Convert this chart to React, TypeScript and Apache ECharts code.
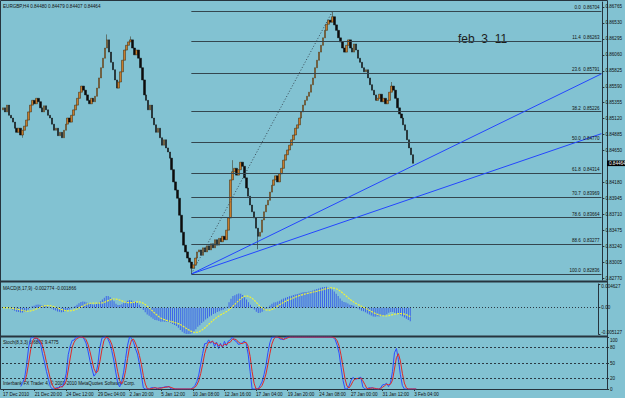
import React, { useEffect, useRef } from "react";
import * as echarts from "echarts";

const symbolTitle = "EURGBP,H4 0.84480 0.84479 0.84407 0.84464";
const macdTitle = "MACD(8,17,9) -0.002774 -0.001866";
const stochTitle = "Stoch(8,3,3) 6.6802 9.4775";
const copyright = "Interbank FX Trader 4, \u00a9 2001-2010 MetaQuotes Software Corp.";
const noteText = "feb  3  11";

// H4 closes (17 Dec 2010 .. 3 Feb 2011)
const closes = [
  0.8528, 0.8522, 0.8532, 0.8517, 0.8513, 0.8507, 0.8498,
  0.8492, 0.8498, 0.8488, 0.8495, 0.8501, 0.8510, 0.8522,
  0.8532, 0.8539, 0.8534, 0.8542, 0.8537, 0.8528, 0.8522, 0.8531,
  0.8525, 0.8517, 0.8513, 0.8504, 0.8495, 0.8498, 0.8487, 0.8492,
  0.8484, 0.8495, 0.8504, 0.8513, 0.8507, 0.8517, 0.8525, 0.8532,
  0.8542, 0.8551, 0.8560, 0.8554, 0.8547, 0.8539, 0.8534, 0.8542,
  0.8537, 0.8545, 0.8557, 0.8572, 0.8587, 0.8601,
  0.8616, 0.8628, 0.8610, 0.8595, 0.8584, 0.8569,
  0.8557, 0.8566, 0.8581, 0.8598, 0.8613, 0.8620,
  0.8625, 0.8628, 0.8616, 0.8606, 0.8613, 0.8601,
  0.8587, 0.8569, 0.8547, 0.8539, 0.8525, 0.8532,
  0.8513, 0.8503, 0.8492, 0.8498, 0.8484, 0.8473,
  0.8481, 0.8469, 0.8463, 0.8454, 0.8437, 0.8419,
  0.8407, 0.8395, 0.8370, 0.8345, 0.8326, 0.8316,
  0.8307, 0.8301, 0.8292, 0.8297, 0.8307, 0.8316,
  0.8319, 0.8311, 0.8322, 0.8316, 0.8325, 0.8319,
  0.8328, 0.8322, 0.8334, 0.8326, 0.8336, 0.8331,
  0.8339, 0.8334, 0.8348, 0.8366, 0.8422, 0.8434,
  0.8439, 0.8429, 0.8437, 0.8448, 0.8442, 0.8425,
  0.8410, 0.8398, 0.8385, 0.8375, 0.8366, 0.8351,
  0.8339, 0.8345, 0.8363, 0.8375, 0.8385, 0.8392,
  0.8404, 0.8414, 0.8422, 0.8428, 0.8419, 0.8431,
  0.8439, 0.8451, 0.8459, 0.8466, 0.8473, 0.8481,
  0.8488, 0.8498, 0.8503, 0.8513, 0.8522, 0.8532,
  0.8539, 0.8545, 0.8551, 0.8562, 0.8572, 0.8587,
  0.8598, 0.8610, 0.8620, 0.8631, 0.8642, 0.8651,
  0.8657, 0.8654, 0.8662, 0.8650, 0.8642, 0.8631,
  0.8625, 0.8616, 0.8610, 0.8620, 0.8628, 0.8616,
  0.8610, 0.8622, 0.8613, 0.8601, 0.8595, 0.8587,
  0.8581, 0.8584, 0.8572, 0.8562, 0.8554, 0.8547,
  0.8539, 0.8542, 0.8548, 0.8537, 0.8542, 0.8534,
  0.8539, 0.8551, 0.8560, 0.8554, 0.8542, 0.8528,
  0.8519, 0.8513, 0.8503, 0.8495, 0.8481, 0.8469, 0.8459, 0.84464,
];
const firstOpen = 0.8525;
// wick extremes: [bar index, price]
const wickHighs = [[53, 0.8636], [65, 0.8633], [117, 0.8451], [168, 0.86704], [198, 0.8566]];
const wickLows = [[10, 0.8484], [96, 0.82836], [130, 0.8320]];

// indicator settings shown in the pane titles
const macdFast = 8, macdSlow = 17, macdSignal = 9;
const stochK = 8, stochSlowing = 3, stochD = 3;

const totalSlots = 306;
const labelEvery = 16;
const timeLabels = [
  "17 Dec 2010", "21 Dec 20:00", "24 Dec 12:00", "29 Dec 04:00", "2 Jan 20:00",
  "5 Jan 12:00", "10 Jan 08:00", "12 Jan 16:00", "17 Jan 04:00", "19 Jan 20:00",
  "24 Jan 08:00", "27 Jan 00:00", "31 Jan 12:00", "3 Feb 04:00",
];

const fibRatios = ["0.0", "11.4", "23.6", "38.2", "50.0", "61.8", "70.7", "78.6", "88.6", "100.0"];
const fibPrices = [0.86704, 0.86263, 0.85791, 0.85226, 0.8477, 0.84314, 0.83969, 0.83664, 0.83277, 0.82836];
const fibStartBar = 96;
const fibEndBar = 168;
const trendEndPrices = [0.8578, 0.849];

const priceTicks = [
  0.86765, 0.8653, 0.86295, 0.8606, 0.85825, 0.8559, 0.85355, 0.8512, 0.84885,
  0.8465, 0.8418, 0.83945, 0.8371, 0.83475, 0.8324, 0.83005, 0.8277,
];
const macdTicks = [0.004627, 0, -0.005127];
const stochTicks = [0, 20, 50, 80, 100];
const stochLevels = [80, 50, 20];

const FONT = "Liberation Sans, Arial, sans-serif";
const BG = "#82c2d2";
const FRAME = "#26343e";

export default function App() {
  const ref = useRef<HTMLDivElement>(null);
  useEffect(() => {
    const chart = echarts.init(ref.current!, null, { renderer: "svg" });
    const n = closes.length;
    const opens = closes.map((c, i) => (i === 0 ? firstOpen : closes[i - 1]));
    const highs = closes.map((c, i) => Math.max(c, opens[i]));
    const lows = closes.map((c, i) => Math.min(c, opens[i]));
    wickHighs.forEach(([i, v]) => (highs[i] = Math.max(highs[i], v)));
    wickLows.forEach(([i, v]) => (lows[i] = Math.min(lows[i], v)));
    const ohlc = closes.map((c, i) => [opens[i], c, lows[i], highs[i]]);

    // MACD: EMA(fast) - EMA(slow), signal = SMA of MACD
    const ema = (arr: number[], p: number) => {
      const k = 2 / (p + 1);
      let e = arr[0];
      return arr.map((v, i) => (i === 0 ? e : (e = v * k + e * (1 - k))));
    };
    const ef = ema(closes, macdFast);
    const es = ema(closes, macdSlow);
    const macd = closes.map((_, i) => ef[i] - es[i]);
    const signal = macd.map((_, i) => {
      const w = macd.slice(Math.max(0, i - macdSignal + 1), i + 1);
      return w.reduce((a, b) => a + b, 0) / w.length;
    });

    // Stochastic oscillator
    const num: number[] = [], den: number[] = [];
    for (let i = 0; i < n; i++) {
      const s = Math.max(0, i - stochK + 1);
      const hh = Math.max(...highs.slice(s, i + 1));
      const ll = Math.min(...lows.slice(s, i + 1));
      num.push(closes[i] - ll);
      den.push(hh - ll);
    }
    const kLine: (number | null)[] = [];
    for (let i = 0; i < n; i++) {
      if (i < stochK + stochSlowing - 2) { kLine.push(null); continue; }
      let a = 0, b = 0;
      for (let j = i - stochSlowing + 1; j <= i; j++) { a += num[j]; b += den[j]; }
      kLine.push(b === 0 ? 100 : (100 * a) / b);
    }
    const dLine = kLine.map((_, i) => {
      if (i < stochK + stochSlowing + stochD - 3) return null;
      let s = 0;
      for (let j = i - stochD + 1; j <= i; j++) s += kLine[j] as number;
      return s / stochD;
    });

    const cats = Array.from({ length: totalSlots }, (_, i) => String(i));
    const lastSlot = totalSlots - 1;

    const fibLines = fibPrices.map((p, i) => [
      {
        coord: [fibStartBar, p],
        label: {
          show: true, position: "insideEndTop", formatter: `${fibRatios[i]}  ${p.toFixed(5)}`,
          fontSize: 4.5, fontFamily: FONT, color: "#111", distance: [2, 1],
        },
        lineStyle: { color: "#34464f", width: 1, type: "solid" },
      },
      { coord: [lastSlot, p] },
    ]);
    const trendLines = trendEndPrices.map((p) => [
      { coord: [fibStartBar, fibPrices[fibPrices.length - 1]], label: { show: false }, lineStyle: { color: "#2446ff", width: 1, type: "solid" } },
      { coord: [lastSlot, p] },
    ]);
    const fibDiag = [
      { coord: [fibStartBar, fibPrices[fibPrices.length - 1]], label: { show: false }, lineStyle: { color: "#3a4a55", width: 1, type: [1, 2] } },
      { coord: [fibEndBar, fibPrices[0]] },
    ];

    const axisLabelBase = { fontSize: 4.6, fontFamily: FONT, color: "#111", margin: 3 };
    const hiddenX = (g: number) => ({
      type: "category", gridIndex: g, data: cats, boundaryGap: true,
      axisLine: { show: false }, axisTick: { show: false }, axisLabel: { show: false }, splitLine: { show: false },
    });

    const option: any = {
      animation: false,
      backgroundColor: BG,
      grid: [
        { left: 2, right: 18, top: 2, height: 278 },
        { left: 2, right: 18, top: 284, height: 50 },
        { left: 2, right: 18, top: 337, height: 52 },
      ],
      xAxis: [
        hiddenX(0),
        hiddenX(1),
        {
          type: "category", gridIndex: 2, data: cats, boundaryGap: true,
          axisLine: { show: false },
          axisTick: { show: true, alignWithLabel: true, length: 2, lineStyle: { color: FRAME },
            interval: (idx: number) => idx % labelEvery === 0 && idx / labelEvery < timeLabels.length },
          axisLabel: {
            ...axisLabelBase, align: "left", margin: 3,
            interval: (idx: number) => idx % labelEvery === 0 && idx / labelEvery < timeLabels.length,
            formatter: (_v: string, idx: number) => timeLabels[idx / labelEvery] ?? "",
          },
          splitLine: { show: false },
        },
      ],
      yAxis: [
        {
          type: "value", gridIndex: 0, position: "right", min: 0.82747, max: 0.86837, scale: true,
          axisLine: { show: true, lineStyle: { color: FRAME } },
          axisTick: { show: true, length: 2, customValues: priceTicks, lineStyle: { color: FRAME } },
          axisLabel: { ...axisLabelBase, customValues: priceTicks, formatter: (v: number) => v.toFixed(5) },
          splitLine: { show: false },
        },
        {
          type: "value", gridIndex: 1, position: "right", min: -0.005127, max: 0.004627,
          axisLine: { show: true, lineStyle: { color: FRAME } },
          axisTick: { show: true, length: 2, customValues: macdTicks, lineStyle: { color: FRAME } },
          axisLabel: {
            ...axisLabelBase, customValues: macdTicks,
            formatter: (v: number) => (v === 0 ? "0.00" : v > 0 ? "{a|" + v.toFixed(6) + "}" : "{b|" + v.toFixed(6) + "}"),
            rich: {
              a: { fontSize: 4.6, fontFamily: FONT, color: "#111", padding: [5, 0, 0, 0] },
              b: { fontSize: 4.6, fontFamily: FONT, color: "#111", padding: [0, 0, 4, 0] },
            },
          },
          splitLine: { show: false },
        },
        {
          type: "value", gridIndex: 2, position: "right", min: 0, max: 100,
          axisLine: { show: true, lineStyle: { color: FRAME } },
          axisTick: { show: true, length: 2, customValues: stochTicks, lineStyle: { color: FRAME } },
          axisLabel: {
            ...axisLabelBase, customValues: stochTicks,
            formatter: (v: number) => (v === 100 ? "{t|100}" : String(v)),
            rich: { t: { fontSize: 4.6, fontFamily: FONT, color: "#111", padding: [7, 0, 0, 0] } },
          },
          splitLine: { show: false },
        },
      ],
      series: [
        {
          type: "candlestick", xAxisIndex: 0, yAxisIndex: 0, data: ohlc, barWidth: 2,
          itemStyle: { color: "#c97c2a", color0: "#0c0c0c", borderColor: "#3a240a", borderColor0: "#0c0c0c", borderWidth: 0.5 },
          markLine: { silent: true, symbol: ["none", "none"], animation: false, data: [...fibLines, ...trendLines, fibDiag] },
        },
        {
          type: "bar", xAxisIndex: 1, yAxisIndex: 1, data: macd, barWidth: 1, itemStyle: { color: "#3d63e8" },
          markLine: { silent: true, symbol: ["none", "none"], label: { show: false },
            lineStyle: { color: "#2b3a44", type: [1, 2], width: 1 }, data: [{ yAxis: 0 }] },
        },
        {
          type: "line", xAxisIndex: 1, yAxisIndex: 1, data: signal, showSymbol: false, symbol: "none",
          lineStyle: { color: "#eef23a", width: 1.2, type: [2, 1] },
        },
        {
          type: "line", xAxisIndex: 2, yAxisIndex: 2, data: kLine, showSymbol: false, symbol: "none",
          lineStyle: { color: "#2f4cff", width: 1 },
          markLine: { silent: true, symbol: ["none", "none"], label: { show: false },
            lineStyle: { color: "#2b3a44", type: [2, 2], width: 1 }, data: stochLevels.map((v) => ({ yAxis: v })) },
        },
        {
          type: "line", xAxisIndex: 2, yAxisIndex: 2, data: dLine, showSymbol: false, symbol: "none",
          lineStyle: { color: "#e02828", width: 1 },
        },
      ],
    };
    chart.setOption(option);

    const lastClose = closes[n - 1];
    const py = chart.convertToPixel({ yAxisIndex: 0 } as any, lastClose) as number;
    const txt = (text: string, x: number, y: number, size = 4.6, fill = "#111") => ({
      type: "text", x, y, style: { text, fontSize: size, fontFamily: FONT, fill, textVerticalAlign: "middle" }, silent: true,
    });
    chart.setOption({
      graphic: [
        { type: "rect", shape: { x: 0.5, y: 0.5, width: 607, height: 389 }, style: { fill: "none", stroke: FRAME, lineWidth: 1 }, silent: true },
        { type: "line", shape: { x1: 0, y1: 281.5, x2: 607, y2: 281.5 }, style: { stroke: FRAME, lineWidth: 2 }, silent: true },
        { type: "line", shape: { x1: 0, y1: 336.5, x2: 607, y2: 336.5 }, style: { stroke: FRAME, lineWidth: 2 }, silent: true },
        txt(symbolTitle, 3, 6),
        txt(macdTitle, 3, 288),
        txt(stochTitle, 3, 342),
        txt(copyright, 3, 383),
        { type: "text", x: 458, y: 33, style: { text: noteText, fontSize: 12, fontFamily: FONT, fill: "#1c1c1c" }, silent: true },
        { type: "rect", shape: { x: 607, y: py - 2.8, width: 18, height: 5.6 }, style: { fill: "#000" }, silent: true },
        txt(lastClose.toFixed(5), 609, py, 4.6, "#fff"),
      ],
    });
    return () => chart.dispose();
  }, []);
  return <div ref={ref} style={{ position: "fixed", left: 0, top: 0, width: 625, height: 398 }} />;
}
